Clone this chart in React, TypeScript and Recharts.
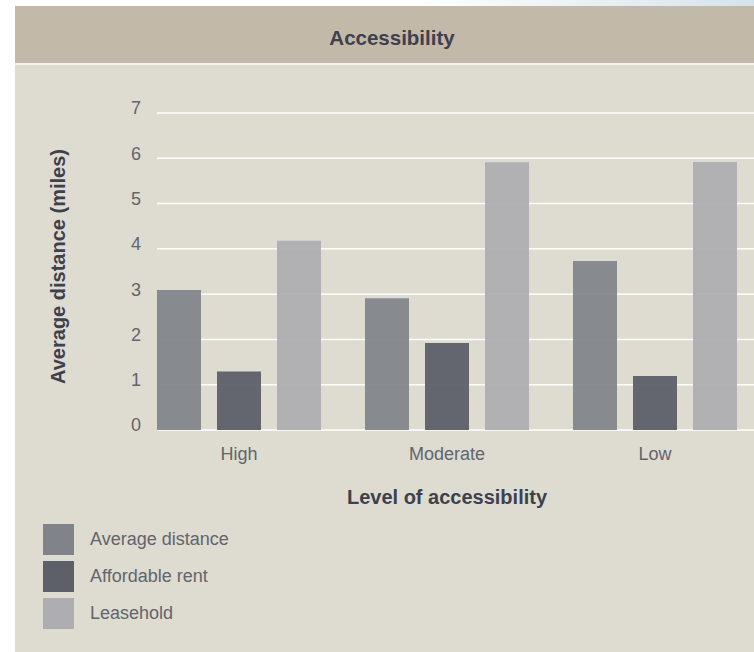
import { BarChart, Bar, XAxis, YAxis, CartesianGrid, Legend } from "recharts";

const categories = ["High", "Moderate", "Low"];
const averageDistance = [3.09, 2.91, 3.73];
const affordableRent = [1.29, 1.92, 1.19];
const leasehold = [4.18, 5.91, 5.92];
const yTicks = [0, 1, 2, 3, 4, 5, 6, 7];
const seriesOrder = ["Average distance", "Affordable rent", "Leasehold"];

const data = categories.map((level, i) => ({
  level,
  average: averageDistance[i],
  affordable: affordableRent[i],
  leasehold: leasehold[i],
}));

const FONT = "'Liberation Sans', Arial, Helvetica, sans-serif";
const TEXT = "#62656d";
const TITLE = "#3d414d";

function LegendList({ payload }: { payload?: any[] }) {
  const items = [...(payload || [])].sort(
    (a, b) => seriesOrder.indexOf(a.value) - seriesOrder.indexOf(b.value)
  );
  return (
    <div>
      {items.map((p) => (
        <div
          key={p.value}
          style={{ display: "flex", alignItems: "center", height: 37 }}
        >
          <div style={{ width: 31, height: 31, background: p.color }} />
          <span
            style={{ marginLeft: 16, fontSize: 18, color: TEXT, fontFamily: FONT }}
          >
            {p.value}
          </span>
        </div>
      ))}
    </div>
  );
}

export default function App() {
  return (
    <div
      style={{
        position: "absolute",
        left: 0,
        top: 0,
        width: 754,
        height: 652,
        overflow: "hidden",
        background: "linear-gradient(90deg, #ffffff 55%, #d5e3ec 100%)",
        fontFamily: FONT,
      }}
    >
      <div
        style={{
          position: "absolute",
          left: 15,
          top: 6,
          width: 760,
          height: 660,
          background: "#dedbd0",
        }}
      />
      <div
        style={{
          position: "absolute",
          left: 15,
          top: 6,
          width: 754,
          height: 59,
          paddingTop: 6,
          boxSizing: "border-box",
          background: "#c3b9a8",
          borderBottom: "2px solid #f4f2ee",
          display: "flex",
          alignItems: "center",
          justifyContent: "center",
          color: TITLE,
          fontWeight: 700,
          fontSize: 20.5,
        }}
      >
        Accessibility
      </div>
      <div style={{ position: "absolute", left: 0, top: 0 }}>
        <BarChart
          width={780}
          height={652}
          data={data}
          margin={{ top: 113, right: 21, bottom: 142, left: 95 }}
          barSize={44}
          barGap={16}
        >
          <CartesianGrid
            vertical={false}
            stroke="#ffffff"
            strokeWidth={1.5}
            x={157}
            width={640}
          />
          <XAxis
            dataKey="level"
            height={80}
            axisLine={false}
            tickLine={false}
            tickSize={0}
            tickMargin={17}
            tick={{ fill: TEXT, fontSize: 18, fontFamily: FONT }}
            label={{
              content: ({ viewBox }: any) => (
                <text
                  x={viewBox.x + viewBox.width / 2}
                  y={viewBox.y + 67}
                  textAnchor="middle"
                  dominantBaseline="central"
                  fill={TITLE}
                  fontWeight={700}
                  fontSize={20}
                  fontFamily={FONT}
                >
                  Level of accessibility
                </text>
              ),
            }}
          />
          <YAxis
            width={40}
            domain={[0, 7]}
            ticks={yTicks}
            axisLine={false}
            tickLine={false}
            tickSize={0}
            tickMargin={0}
            tick={{ fill: TEXT, fontSize: 18, fontFamily: FONT, dx: 6, dy: -5 }}
            label={{
              content: ({ viewBox }: any) => (
                <text
                  x={58}
                  y={viewBox.y + viewBox.height / 2 - 5}
                  transform={`rotate(-90 58 ${viewBox.y + viewBox.height / 2 - 5})`}
                  textAnchor="middle"
                  dominantBaseline="central"
                  fill={TITLE}
                  fontWeight={700}
                  fontSize={20}
                  fontFamily={FONT}
                >
                  Average distance (miles)
                </text>
              ),
            }}
          />
          <Bar
            dataKey="average"
            name="Average distance"
            fill="#80838a"
            fillOpacity={0.93}
            isAnimationActive={false}
          />
          <Bar
            dataKey="affordable"
            name="Affordable rent"
            fill="#5d6069"
            fillOpacity={0.95}
            isAnimationActive={false}
          />
          <Bar
            dataKey="leasehold"
            name="Leasehold"
            fill="#adadb2"
            fillOpacity={0.93}
            isAnimationActive={false}
          />
          <Legend
            layout="vertical"
            align="center"
            verticalAlign="middle"
            content={(props: any) => <LegendList payload={props.payload} />}
            wrapperStyle={{ left: 43, top: 521, width: 300, height: 120 }}
          />
        </BarChart>
      </div>
    </div>
  );
}
